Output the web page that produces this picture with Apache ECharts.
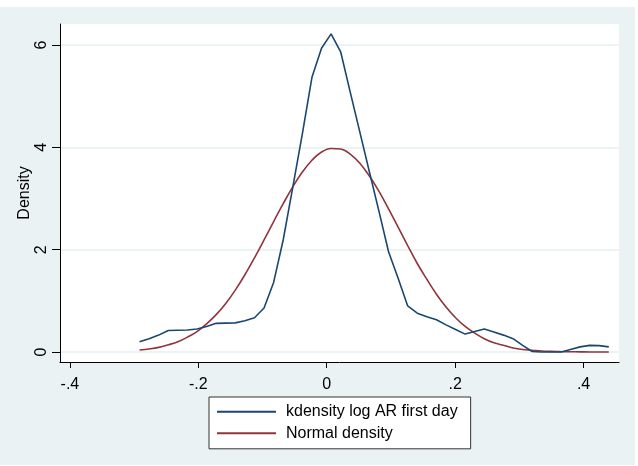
<!DOCTYPE html>
<html>
<head>
<meta charset="utf-8">
<title>kdensity log AR first day</title>
<script src="https://cdn.jsdelivr.net/npm/echarts@6.0.0/dist/echarts.min.js"></script>
<style>
    html, body { margin: 0; padding: 0; background: #fff; }
    #chart { width: 638px; height: 466px; }
</style>
</head>
<body>
<div id="chart"></div>
<script>
// --- Data ---

// evaluation points of the kernel density (50 points)
const gridX = [
    -0.2915, -0.2766, -0.2617, -0.2468, -0.2318, -0.2169, -0.2020, -0.1871, -0.1722, -0.1573,
    -0.1424, -0.1274, -0.1125, -0.0976, -0.0827, -0.0678, -0.0529, -0.0379, -0.0230, -0.0081,
    0.0068, 0.0217, 0.0366, 0.0516, 0.0665, 0.0814, 0.0963, 0.1112, 0.1261, 0.1410,
    0.1560, 0.1709, 0.1858, 0.2007, 0.2156, 0.2305, 0.2454, 0.2604, 0.2753, 0.2902,
    0.3051, 0.3200, 0.3349, 0.3498, 0.3648, 0.3797, 0.3946, 0.4095, 0.4244, 0.4393
];

const kdensityY = [
    0.20, 0.26, 0.33, 0.42, 0.425, 0.43, 0.45, 0.50, 0.56, 0.565,
    0.57, 0.61, 0.67, 0.86, 1.36, 2.19, 3.22, 4.27, 5.37, 5.94,
    6.22, 5.87, 5.08, 4.30, 3.52, 2.75, 1.96, 1.44, 0.90, 0.76,
    0.69, 0.63, 0.53, 0.44, 0.35, 0.40, 0.45, 0.39, 0.33, 0.26,
    0.13, 0.01, 0.0, 0.0, 0.0, 0.05, 0.10, 0.13, 0.125, 0.10
];

const normalY = [
    0.04, 0.06, 0.09, 0.14, 0.20, 0.29, 0.40, 0.55, 0.73, 0.95,
    1.21, 1.51, 1.84, 2.19, 2.55, 2.90, 3.23, 3.52, 3.75, 3.91,
    3.98, 3.97, 3.87, 3.69, 3.44, 3.14, 2.80, 2.44, 2.08, 1.73,
    1.42, 1.13, 0.88, 0.67, 0.50, 0.37, 0.26, 0.18, 0.13, 0.08,
    0.05, 0.035, 0.02, 0.013, 0.008, 0.005, 0.003, 0.001, 0.001, 0.0
];

const xTicks = [-0.4, -0.2, 0, 0.2, 0.4];
const yTicks = [0, 2, 4, 6];
const seriesNames = ['kdensity log AR first day', 'Normal density'];

// --- Helpers ---

const pair = (xs, ys) => xs.map((x, i) => [x, ys[i]]);

// Stata style labels: -.4, -.2, 0, .2, .4
const stataNum = (v) => {
    if (Math.abs(v) < 1e-9) return '0';
    const s = String(Math.abs(Math.round(v * 10) / 10)).replace(/^0/, '');
    return (v < 0 ? '-' : '') + s;
};

// --- Chart ---

const FONT = "'Liberation Sans', Arial, sans-serif";
const FONT_SIZE = 16;
const BLUE = '#1A476F';
const RED = '#90353B';

const chart = echarts.init(document.getElementById('chart'), null, { renderer: 'canvas' });

chart.setOption({
    backgroundColor: '#EAF2F3',
    animation: false,
    textStyle: { fontFamily: FONT },
    graphic: [
        // white margins around the graph region
        { type: 'rect', shape: { x: 0, y: 0, width: 638, height: 7 }, style: { fill: '#fff' }, silent: true },
        { type: 'rect', shape: { x: 635, y: 0, width: 3, height: 466 }, style: { fill: '#fff' }, silent: true },
        { type: 'rect', shape: { x: 0, y: 465, width: 638, height: 1 }, style: { fill: '#fff' }, silent: true }
    ],
    grid: {
        left: 60, right: 19, top: 24, bottom: 104,
        show: true, backgroundColor: '#fff', borderWidth: 0
    },
    xAxis: {
        type: 'value',
        min: -0.4154, max: 0.4552,
        axisLine: { show: true, onZero: false, lineStyle: { color: '#000', width: 1 } },
        axisTick: { show: true, length: 6, customValues: xTicks, lineStyle: { color: '#000' } },
        axisLabel: {
            customValues: xTicks, margin: 15, fontSize: FONT_SIZE, color: '#000', fontFamily: FONT,
            formatter: stataNum
        },
        splitLine: { show: false }
    },
    yAxis: {
        type: 'value',
        min: -0.1955, max: 6.413,
        name: 'Density',
        nameLocation: 'middle',
        nameGap: 27,
        nameRotate: 90,
        nameMoveOverlap: false,
        nameTextStyle: { fontSize: FONT_SIZE, color: '#000', fontFamily: FONT },
        axisLine: { show: true, onZero: false, lineStyle: { color: '#000', width: 1 } },
        axisTick: { show: true, length: 8, customValues: yTicks, lineStyle: { color: '#000' } },
        axisLabel: {
            customValues: yTicks, rotate: 90, margin: 10.5, fontSize: FONT_SIZE, color: '#000', fontFamily: FONT
        },
        splitLine: { show: true, lineStyle: { color: '#E6EFF1', width: 1.5 } }
    },
    legend: {
        orient: 'vertical',
        left: 209, top: 397,
        padding: [6.7, 13, 7.5, 7],
        itemGap: 5.6,
        itemWidth: 59,
        itemHeight: 16,
        backgroundColor: '#fff',
        borderColor: '#333',
        borderWidth: 1,
        borderRadius: 0,
        itemStyle: { opacity: 0 },
        textStyle: { fontSize: FONT_SIZE, color: '#000', fontFamily: FONT, padding: [0, 0, 0, 5] },
        data: seriesNames
    },
    series: [
        {
            name: seriesNames[0],
            type: 'line',
            data: pair(gridX, kdensityY),
            symbol: 'none',
            lineStyle: { color: BLUE, width: 1.6 },
            itemStyle: { color: BLUE },
            z: 3
        },
        {
            name: seriesNames[1],
            type: 'line',
            data: pair(gridX, normalY),
            symbol: 'none',
            smooth: 0.4,
            lineStyle: { color: RED, width: 1.6 },
            itemStyle: { color: RED },
            z: 2
        }
    ]
});
</script>
</body>
</html>
